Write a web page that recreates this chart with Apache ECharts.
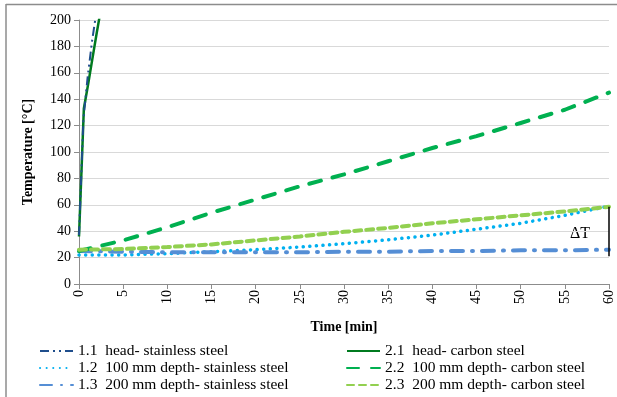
<!DOCTYPE html>
<html>
<head>
<meta charset="utf-8">
<script src="https://cdn.jsdelivr.net/npm/echarts@6/dist/echarts.min.js"></script>
<style>
    html, body { margin: 0; padding: 0; background: #fff; }
    #chart { width: 617px; height: 397px; }
</style>
</head>
<body>
<div id="chart"></div>
<script>
    // time axis (min) for the head curves - they shoot past 200 very fast
    var headTime11 = [0, 0.5, 1, 1.5, 1.9];
    var headTemp11 = [37, 125, 158, 185, 203];
    var headTime21 = [0, 0.55, 1, 1.5, 2, 2.5];
    var headTemp21 = [36, 133, 150, 170, 190, 209];

    // depth curves, sampled every 5 min
    var depthTime = [0, 5, 10, 15, 20, 25, 30, 35, 40, 45, 50, 55, 60];
    var temp12 = [22, 22, 23, 24.5, 26, 28, 30.5, 33.5, 37, 41.5, 46, 52, 59];
    var temp13 = [25, 24.5, 24, 24, 24, 24, 24.5, 24.5, 25, 25, 25.5, 25.5, 26];
    var temp22 = [25, 33, 43, 54, 64, 74, 83, 93, 103, 112, 122, 132, 145];
    var temp23 = [26, 26.5, 28, 30, 33, 36, 39.5, 42.5, 46, 49, 52, 55, 58.5];

    var seriesNames = [
        '1.1  head- stainless steel',
        '1.2  100 mm depth- stainless steel',
        '1.3  200 mm depth- stainless steel',
        '2.1  head- carbon steel',
        '2.2  100 mm depth- carbon steel',
        '2.3  200 mm depth- carbon steel'
    ];

    // ΔT bracket at the end of the test
    var deltaT = [[60, 58.5], [60, 21]];

    function pairs(xs, ys) {
        return xs.map(function (x, i) { return [x, ys[i]]; });
    }

    var serif = '"Liberation Serif", "DejaVu Serif", serif';

    var legendBase = {
        orient: 'vertical', top: 343, itemGap: 1, padding: 0,
        itemWidth: 33, itemHeight: 14,
        itemStyle: { opacity: 0 },
        textStyle: { fontFamily: serif, fontSize: 15.5, lineHeight: 16, color: '#000' }
    };

    var chart = echarts.init(document.getElementById('chart'));
    chart.setOption({
        backgroundColor: '#fff',
        animation: false,
        textStyle: { fontFamily: serif, color: '#000' },
        grid: { left: 79, right: 8, top: 20, bottom: 113 },
        graphic: [
            { type: 'line', shape: { x1: 6, y1: 4.5, x2: 617, y2: 4.5 }, style: { stroke: '#8c8c8c', lineWidth: 1.5 } },
            { type: 'line', shape: { x1: 6, y1: 4, x2: 6, y2: 397 }, style: { stroke: '#8c8c8c', lineWidth: 1.5 } },
            { type: 'text', left: 570, top: 226, style: { text: 'ΔT', font: '16px ' + serif, fill: '#000' } }
        ],
        legend: [
            Object.assign({ left: 39, data: seriesNames.slice(0, 3) }, legendBase),
            Object.assign({ left: 346, data: seriesNames.slice(3) }, legendBase)
        ],
        xAxis: {
            type: 'value', min: 0, max: 60, interval: 5,
            name: 'Time [min]', nameLocation: 'middle', nameGap: 36,
            nameTextStyle: { fontFamily: serif, fontSize: 14, fontWeight: 'bold', color: '#000' },
            axisLine: { lineStyle: { color: '#8c8c8c' } },
            axisTick: { show: true, length: 5, lineStyle: { color: '#8c8c8c' } },
            axisLabel: { rotate: 90, fontFamily: serif, fontSize: 14, color: '#000', margin: 6 },
            splitLine: { show: false }
        },
        yAxis: {
            type: 'value', min: 0, max: 200, interval: 20,
            name: 'Temperature [°C]', nameLocation: 'middle', nameGap: 44,
            nameTextStyle: { fontFamily: serif, fontSize: 14, fontWeight: 'bold', color: '#000' },
            axisLine: { show: true, lineStyle: { color: '#8c8c8c' } },
            axisTick: { show: true, length: 5, lineStyle: { color: '#8c8c8c' } },
            axisLabel: { fontFamily: serif, fontSize: 14, color: '#000', margin: 8 },
            splitLine: { lineStyle: { color: '#d9d9d9', width: 1 } }
        },
        series: [
            {
                name: seriesNames[0], type: 'line', symbol: 'none', z: 4,
                data: pairs(headTime11, headTemp11),
                lineStyle: { color: '#1f4e8c', width: 2, type: [9, 4, 2, 4, 2, 4] },
                itemStyle: { color: '#1f4e8c' }
            },
            {
                name: seriesNames[1], type: 'line', symbol: 'none', z: 3,
                data: pairs(depthTime, temp12),
                lineStyle: { color: '#00b0f0', width: 3.5, type: [0.1, 6.5], cap: 'round' },
                itemStyle: { color: '#00b0f0' }
            },
            {
                name: seriesNames[2], type: 'line', symbol: 'none', z: 3,
                data: pairs(depthTime, temp13),
                lineStyle: { color: '#558ed5', width: 4, type: [12, 9, 1, 9], cap: 'round' },
                itemStyle: { color: '#558ed5' }
            },
            {
                name: seriesNames[3], type: 'line', symbol: 'none', z: 3,
                data: pairs(headTime21, headTemp21),
                lineStyle: { color: '#007a1f', width: 2.5 },
                itemStyle: { color: '#007a1f' }
            },
            {
                name: seriesNames[4], type: 'line', symbol: 'none', z: 3,
                data: pairs(depthTime, temp22),
                lineStyle: { color: '#00b050', width: 4, type: [12, 12], cap: 'round' },
                itemStyle: { color: '#00b050' }
            },
            {
                name: seriesNames[5], type: 'line', symbol: 'none', z: 3,
                data: pairs(depthTime, temp23),
                lineStyle: { color: '#92d050', width: 4, type: [7, 5], cap: 'round' },
                itemStyle: { color: '#92d050' },
                markLine: {
                    silent: true, symbol: 'none', label: { show: false },
                    lineStyle: { color: '#000', width: 1.5, type: 'solid' },
                    data: [[{ coord: deltaT[0] }, { coord: deltaT[1] }]]
                }
            }
        ]
    });
</script>
</body>
</html>
